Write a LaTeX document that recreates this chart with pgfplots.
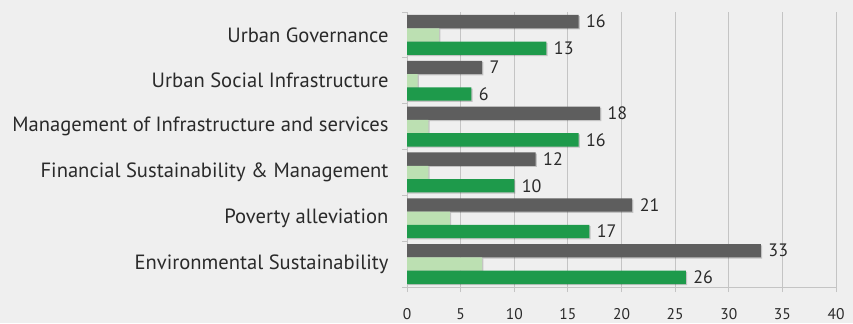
\documentclass[border=0pt]{standalone}
\usepackage{fontspec}
\setmainfont{PT Sans}
\usepackage{pgfplots}
\pgfplotsset{compat=1.18}

\definecolor{bg}{HTML}{EFEFEF}
\definecolor{bardark}{HTML}{5E5E5E}
\definecolor{barlight}{HTML}{BCE0B2}
\definecolor{bargreen}{HTML}{1E9A4B}
\definecolor{gridgray}{HTML}{C4C4C4}
\definecolor{txt}{HTML}{2A2A2A}

\tikzset{barshadow/.style={preaction={fill=black, opacity=0.18,
  transform canvas={xshift=1.2bp, yshift=-1.2bp}}}}

\begin{document}
\begin{tikzpicture}[x=1bp,y=1bp]
\fill[bg] (0,0) rectangle (853,323);
\useasboundingbox (0,0) rectangle (853,323);
\begin{axis}[
  at={(407bp,36bp)}, anchor=south west,
  width=429bp, height=275bp, scale only axis,
  xbar, bar width=13.3bp,
  xmin=0, xmax=40, ymin=-0.5, ymax=5.5,
  xtick={0,5,...,40},
  ytick={0,...,5},
  yticklabels={Environmental Sustainability, Poverty alleviation,
    Financial Sustainability \& Management,
    Management of Infrastructure and services,
    Urban Social Infrastructure, Urban Governance},
  minor ytick={-0.5,0.5,...,5.5},
  axis x line*=bottom, axis y line*=left,
  axis line style={gridgray, line width=0.8bp, -},
  xmajorgrids, grid style={gridgray, line width=0.8bp},
  tick align=outside,
  major tick length=5bp, minor tick length=5bp,
  every tick/.style={gridgray, line width=0.8bp},
  major y tick style={draw=none},
  /pgf/number format/assume math mode=true,
  xticklabel style={font=\fontsize{15.5bp}{17bp}\selectfont, text=txt, yshift=-13bp},
  yticklabel style={font=\fontsize{20.6bp}{23bp}\selectfont, text=txt, xshift=-10bp},
  nodes near coords style={font=\fontsize{18bp}{20bp}\selectfont, text=txt, anchor=west, xshift=4bp},
  clip=false,
]
\addplot[fill=bardark, draw=none, barshadow, bar shift=13.3bp, nodes near coords]
  coordinates {(33,0) (21,1) (12,2) (18,3) (7,4) (16,5)};
\addplot[fill=barlight, draw=none, barshadow, bar shift=0bp]
  coordinates {(7,0) (4,1) (2,2) (2,3) (1,4) (3,5)};
\addplot[fill=bargreen, draw=none, barshadow, bar shift=-13.3bp, nodes near coords]
  coordinates {(26,0) (17,1) (10,2) (16,3) (6,4) (13,5)};
\end{axis}
\end{tikzpicture}
\end{document}
